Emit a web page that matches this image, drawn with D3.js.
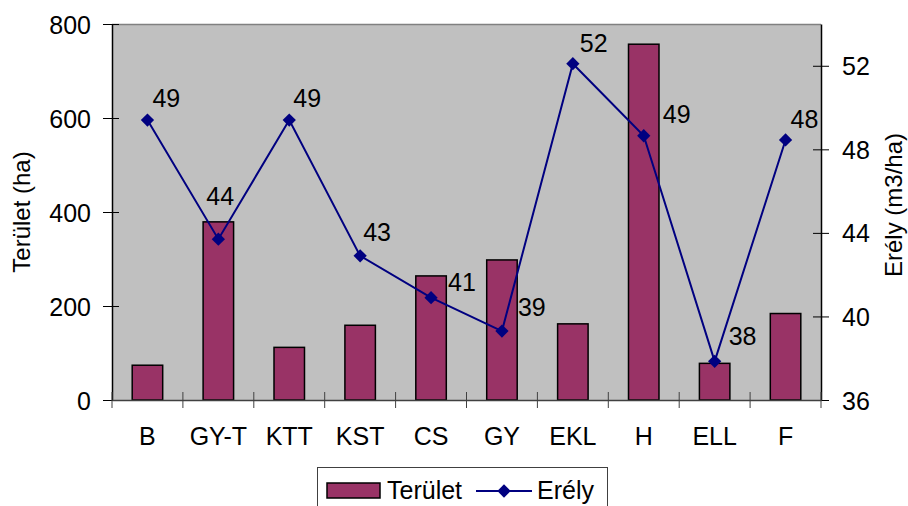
<!DOCTYPE html>
<html><head><meta charset="utf-8">
<script src="https://cdn.jsdelivr.net/npm/d3@7"></script>
<style>body{margin:0;background:#fff}svg{display:block;font-family:"Liberation Sans",Arial,sans-serif}</style>
</head><body>
<script>
const categories = ["B","GY-T","KTT","KST","CS","GY","EKL","H","ELL","F"];
const terulet = [74, 379, 112, 159, 264, 298, 162, 757, 78, 184];
const erely = [49.4, 43.7, 49.4, 42.9, 40.9, 39.3, 52.1, 48.65, 37.85, 48.45];
const leftTicks = [0, 200, 400, 600, 800];
const rightTicks = [36, 40, 44, 48, 52];
// label offsets (layout only)
const labelDx = [5, -12, 4, 3, 17, 16, 7, 19, 14, 5];
const labelDy = [-13, -34, -13, -15, -7, -15, -12, -13, -16, -12];

const W = 908, H = 506;
const m = {l:112, r:821, t:24, b:400};
const svg = d3.select("body").append("svg").attr("width", W).attr("height", H);

const x = d3.scaleBand().domain(categories).range([m.l, m.r]).padding(0);
const yL = d3.scaleLinear().domain([0, 800]).range([m.b, m.t]);
const yR = d3.scaleLinear().domain([36, 54]).range([m.b, m.t]);

// plot area
svg.append("rect").attr("x", m.l).attr("y", m.t).attr("width", m.r - m.l).attr("height", m.b - m.t)
  .attr("fill", "#c0c0c0");
svg.append("line").attr("x1", m.l).attr("x2", m.r).attr("y1", m.t + 0.5).attr("y2", m.t + 0.5)
  .attr("stroke", "#808080").attr("stroke-width", 1.5);

// bars
const bw = x.bandwidth() * 0.43;
svg.append("g").selectAll("rect").data(categories).join("rect")
  .attr("x", (d) => x(d) + x.bandwidth()/2 - bw/2)
  .attr("y", (d, i) => yL(terulet[i]))
  .attr("width", bw)
  .attr("height", (d, i) => yL(0) - yL(terulet[i]))
  .attr("fill", "#993366").attr("stroke", "#000").attr("stroke-width", 1.5);

// axes
const font = 25;
const gL = svg.append("g").attr("transform", `translate(${m.l},0)`)
  .call(d3.axisLeft(yL).tickValues(leftTicks).tickSize(0).tickPadding(21));
gL.select(".domain").attr("stroke", "#000").attr("stroke-width", 1.5);
gL.selectAll(".tick line").remove();
gL.selectAll(".tick").append("line").attr("x1", -9).attr("x2", 7).attr("stroke", "#000").attr("stroke-width", 1);
gL.selectAll("text").attr("font-size", font).attr("font-family", "Liberation Sans, Arial").attr("fill", "#000").attr("dy", "0.36em");

const gR = svg.append("g").attr("transform", `translate(${m.r},0)`)
  .call(d3.axisRight(yR).tickValues(rightTicks).tickSize(0).tickPadding(21));
gR.select(".domain").attr("stroke", "#000").attr("stroke-width", 1.5);
gR.selectAll(".tick line").remove();
gR.selectAll(".tick").append("line").attr("x1", -8).attr("x2", 8).attr("stroke", "#000").attr("stroke-width", 1);
gR.selectAll("text").attr("font-size", font).attr("font-family", "Liberation Sans, Arial").attr("fill", "#000").attr("dy", "0.36em");

const gB = svg.append("g").attr("transform", `translate(0,${m.b})`)
  .call(d3.axisBottom(x).tickSize(0).tickPadding(27));
gB.select(".domain").attr("stroke", "#404040").attr("stroke-width", 1.5);
gB.selectAll("text").attr("font-size", font).attr("font-family", "Liberation Sans, Arial").attr("fill", "#000");
// boundary ticks
const bounds = categories.map(d => x(d)).concat([m.r]);
gB.append("g").selectAll("line").data(bounds).join("line")
  .attr("x1", d => d).attr("x2", d => d).attr("y1", -8).attr("y2", 8)
  .attr("stroke", "#404040").attr("stroke-width", 1);

// line
const cx = (d) => x(d) + x.bandwidth()/2;
const line = d3.line().x((d, i) => cx(categories[i])).y(d => yR(d));
svg.append("path").datum(erely).attr("d", line).attr("fill", "none")
  .attr("stroke", "#000080").attr("stroke-width", 2);
const diamond = d3.symbol().type(d3.symbolSquare).size(88);
svg.append("g").selectAll("path").data(erely).join("path")
  .attr("d", diamond)
  .attr("transform", (d, i) => `translate(${cx(categories[i])},${yR(d)}) rotate(45)`)
  .attr("fill", "#000080");

// labels
svg.append("g").selectAll("text").data(erely).join("text")
  .attr("x", (d, i) => cx(categories[i]) + labelDx[i])
  .attr("y", (d, i) => yR(d) + labelDy[i])
  .attr("font-size", font).attr("fill", "#000")
  .text(d => Math.round(d));

// axis titles
svg.append("text").attr("transform", `translate(30,212) rotate(-90)`)
  .attr("text-anchor", "middle").attr("font-size", 24).text("Terület (ha)");
svg.append("text").attr("transform", `translate(902,205) rotate(-90)`)
  .attr("text-anchor", "middle").attr("font-size", 24).text("Erély (m3/ha)");

// legend
const lg = svg.append("g");
lg.append("rect").attr("x", 317.5).attr("y", 467.5).attr("width", 290).attr("height", 45)
  .attr("fill", "#fff").attr("stroke", "#404040").attr("stroke-width", 1);
lg.append("rect").attr("x", 327).attr("y", 483).attr("width", 53).attr("height", 15)
  .attr("fill", "#993366").attr("stroke", "#000").attr("stroke-width", 1.5);
lg.append("text").attr("x", 387).attr("y", 499).attr("font-size", font).text("Terület");
lg.append("line").attr("x1", 476).attr("x2", 532).attr("y1", 491).attr("y2", 491)
  .attr("stroke", "#000080").attr("stroke-width", 2);
lg.append("path").attr("d", diamond).attr("transform", "translate(504,491) rotate(45)").attr("fill", "#000080");
lg.append("text").attr("x", 537).attr("y", 499).attr("font-size", font).text("Erély");
</script>
</body></html>
